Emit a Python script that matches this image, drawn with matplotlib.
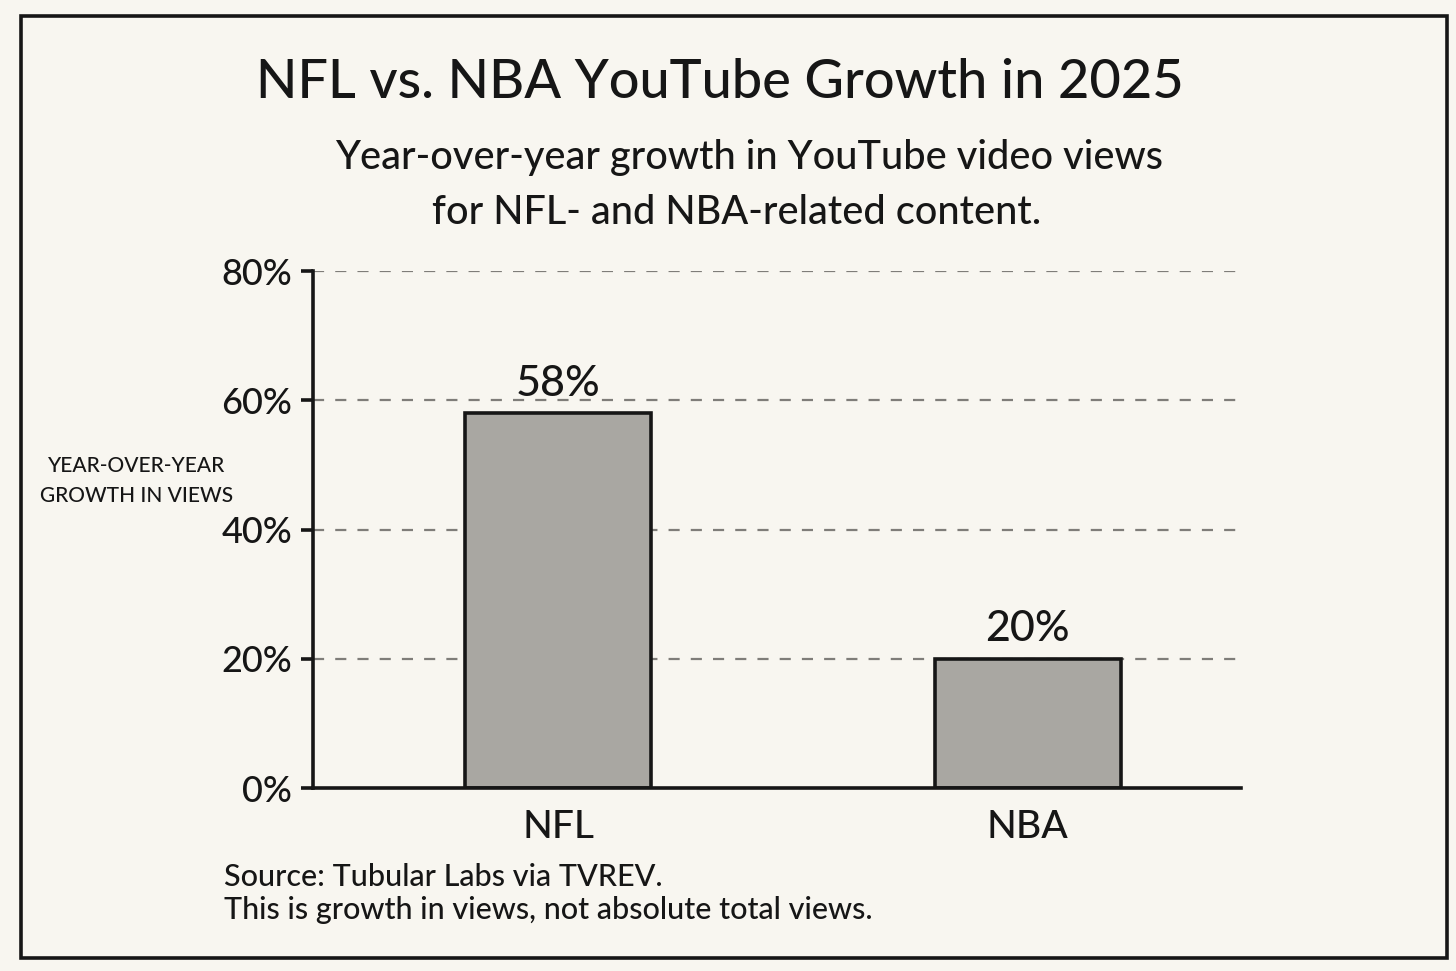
import matplotlib
matplotlib.use("Agg")
import matplotlib.pyplot as plt
from matplotlib.patches import Rectangle

categories = ["NFL", "NBA"]
growth_pct = [58, 20]
value_labels = ["58%", "20%"]
ytick_values = [0, 20, 40, 60, 80]
ytick_labels = ["0%", "20%", "40%", "60%", "80%"]

title = "NFL vs. NBA YouTube Growth in 2025"
subtitle1 = "Year-over-year growth in YouTube video views"
subtitle2 = "for NFL- and NBA-related content."
ylabel = "YEAR-OVER-YEAR\nGROWTH IN VIEWS"
source1 = "Source: Tubular Labs via TVREV."
source2 = "This is growth in views, not absolute total views."

BG = "#f8f6f0"
INK = "#161616"
BAR = "#a9a7a2"
FONT = ["Lato", "DejaVu Sans"]
WT = "medium"

plt.rcParams["font.family"] = FONT

W, H = 1456, 971
fig = plt.figure(figsize=(W / 100, H / 100), dpi=100, facecolor=BG)

# outer frame
fig.patches.append(Rectangle((21 / W, 1 - 958 / H), (1447 - 21) / W, (958 - 16) / H,
                             transform=fig.transFigure, fill=False,
                             edgecolor=INK, linewidth=2.6, zorder=0))

ax_left, ax_right = 313 / W, 1241 / W
ax_bottom, ax_top = 1 - 788 / H, 1 - 271 / H
ax = fig.add_axes([ax_left, ax_bottom, ax_right - ax_left, ax_top - ax_bottom])
ax.set_facecolor("none")

x = [0, 1]
ax.bar(x, growth_pct, width=0.395, color=BAR, edgecolor=INK, linewidth=2.6, zorder=3)

ax.set_xlim(-0.522, 1.454)
ax.set_ylim(0, 80)

for yv in ytick_values[1:]:
    ax.axhline(yv, color="#7f7d79", linewidth=1.6, linestyle=(0, (5, 5)), zorder=1)

for xi, v, lab in zip(x, growth_pct, value_labels):
    ax.text(xi, v + 2.7, lab, ha="center", va="baseline", fontsize=31, color=INK,
            fontweight=WT, zorder=4)

ax.set_yticks(ytick_values)
ax.set_yticklabels(ytick_labels, fontsize=26, color=INK, fontweight=WT)
ax.set_xticks(x)
ax.set_xticklabels(categories, fontsize=28, color=INK, fontweight=WT)
ax.tick_params(axis="y", length=9, width=2.6, color=INK, pad=6)
ax.tick_params(axis="x", length=0, pad=16)

for s in ["top", "right"]:
    ax.spines[s].set_visible(False)
for s in ["left", "bottom"]:
    ax.spines[s].set_linewidth(2.6)
    ax.spines[s].set_color(INK)
    ax.spines[s].set_zorder(5)

fig.text(720 / W, 1 - 82 / H, title, ha="center", va="center", fontsize=39,
         color=INK, fontweight=WT)
fig.text(749 / W, 1 - 157 / H, subtitle1, ha="center", va="center", fontsize=28.5,
         color=INK, fontweight=WT)
fig.text(737 / W, 1 - 212 / H, subtitle2, ha="center", va="center", fontsize=28.5,
         color=INK, fontweight=WT)
fig.text(137 / W, 1 - 481 / H, ylabel, ha="center", va="center", fontsize=15,
         color=INK, linespacing=1.6, fontweight=WT)
fig.text(224 / W, 1 - 877 / H, source1, ha="left", va="center", fontsize=22,
         color=INK, fontweight=WT)
fig.text(224 / W, 1 - 910 / H, source2, ha="left", va="center", fontsize=22,
         color=INK, fontweight=WT)

fig.savefig("out.png", dpi=100, facecolor=BG)
